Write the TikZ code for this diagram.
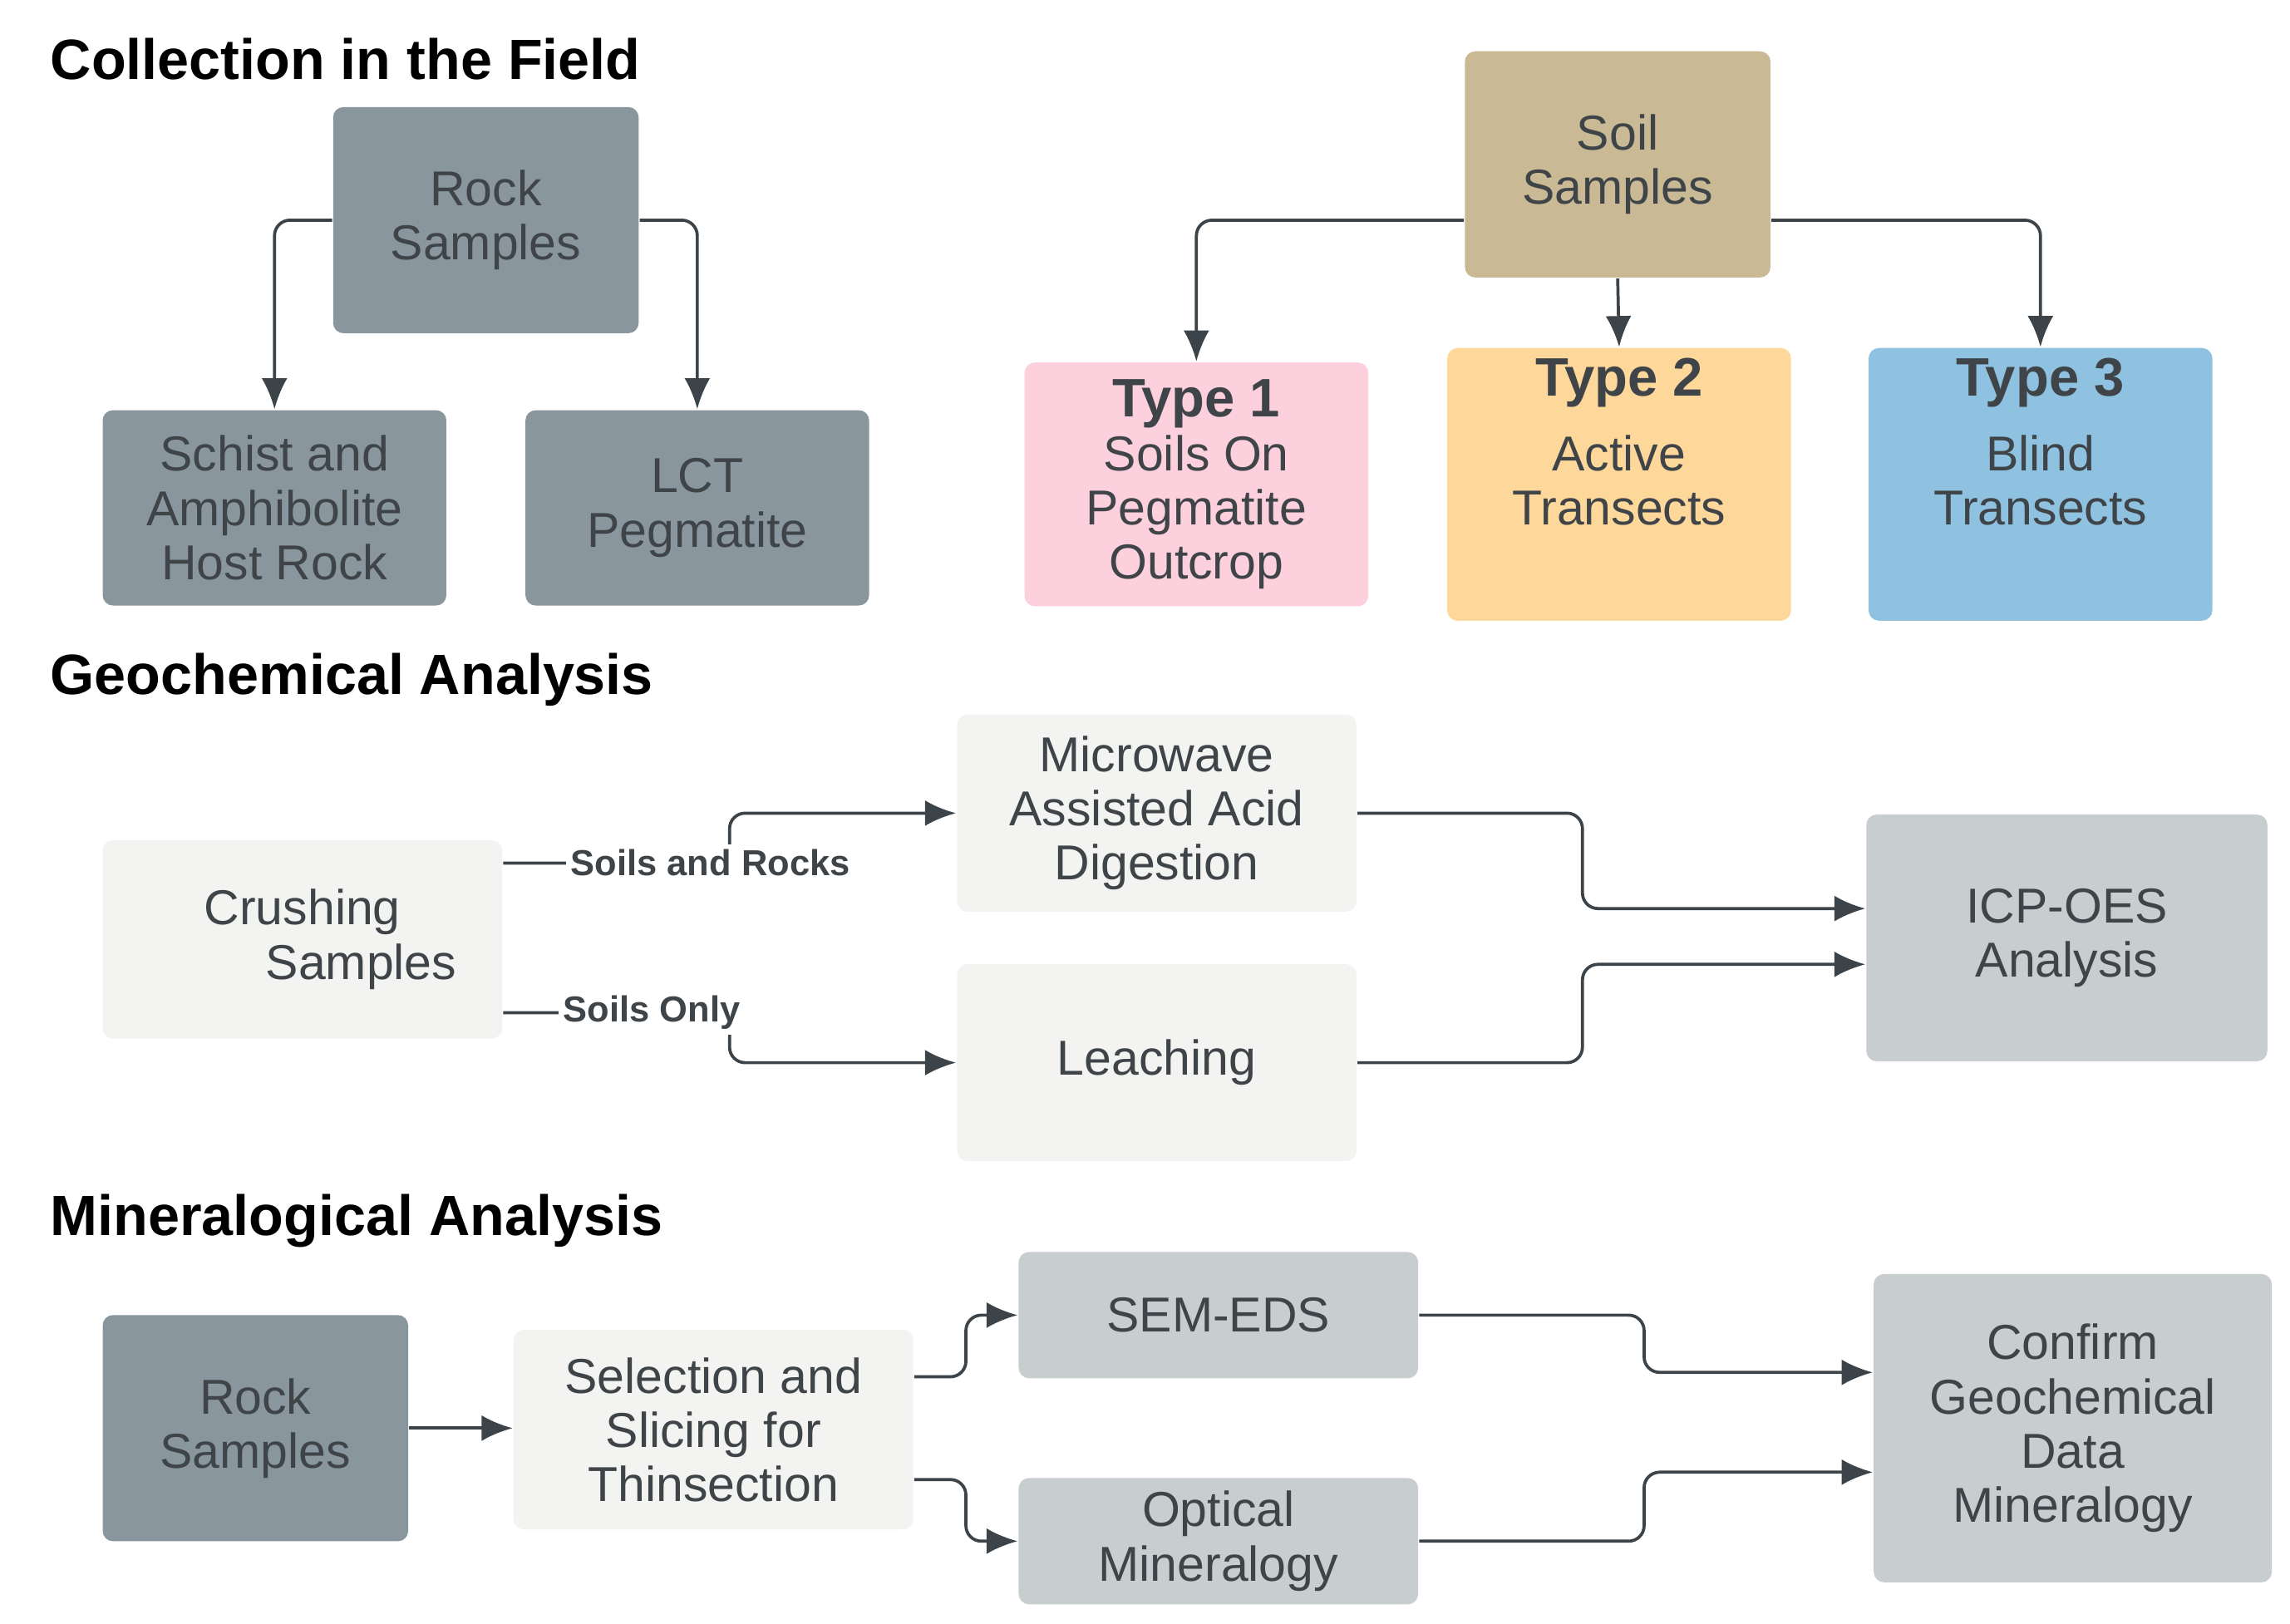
\documentclass[tikz,border=0pt]{standalone}
\usepackage{fontspec}
\setmainfont{Liberation Sans}
\usetikzlibrary{arrows.meta,positioning}
\definecolor{rockgray}{HTML}{8A969D}
\definecolor{soiltan}{HTML}{C9B994}
\definecolor{pinkbox}{HTML}{FCD0DC}
\definecolor{orangebox}{HTML}{FED79A}
\definecolor{bluebox}{HTML}{8FC2E0}
\definecolor{lightbox}{HTML}{F3F3F1}
\definecolor{midbox}{HTML}{C8CDD0}
\definecolor{txtgray}{HTML}{3F4448}
\definecolor{arrowgray}{HTML}{3C4449}
\begin{document}
\begin{tikzpicture}[
  x=0.01cm, y=-0.01cm,
  >=Latex,
  block/.style={rectangle, rounded corners=2pt, align=center, text=txtgray,
    font=\fontsize{9.5}{10.5}\selectfont, inner sep=2pt},
  title/.style={anchor=west, font=\fontsize{11}{13}\selectfont\bfseries},
  elabel/.style={fill=white, inner sep=1pt, text=txtgray, font=\fontsize{7}{8}\selectfont\bfseries},
  line/.style={draw=arrowgray, line width=0.6pt, rounded corners=3pt, -{Latex[length=6pt,width=5pt]}}
]
\useasboundingbox (0,0) rectangle (1560,1106);

% Collection in the Field
\node[title] (tfield) at (22,40) {Collection in the Field};
\node[block, fill=rockgray, minimum width=2.08cm, minimum height=1.54cm] (rock) at (331,150) {Rock\\Samples};
\node[block, fill=rockgray, minimum width=2.34cm, minimum height=1.33cm] (schist) at (187,346) {Schist and\\Amphibolite\\Host Rock};
\node[block, fill=rockgray, minimum width=2.34cm, minimum height=1.33cm] (lct) at (475,346) {LCT\\Pegmatite};
\node[block, fill=soiltan, minimum width=2.08cm, minimum height=1.54cm] (soil) at (1102,112) {Soil\\Samples};
\node[block, fill=pinkbox, minimum width=2.34cm, minimum height=1.66cm] (type1) at (815,330) {{\bfseries\fontsize{10.5}{12}\selectfont Type 1}\\Soils On\\Pegmatite\\Outcrop};
\node[block, fill=orangebox, minimum width=2.34cm, minimum height=1.66cm] (type2) at (1103,330) {{\bfseries\fontsize{10.5}{12}\selectfont Type 2}\\[4pt]Active\\Transects\\[6pt]};
\node[block, fill=bluebox, minimum width=2.34cm, minimum height=1.66cm] (type3) at (1390,330) {{\bfseries\fontsize{10.5}{12}\selectfont Type 3}\\[4pt]Blind\\Transects\\[6pt]};

\path[line] (rock.west) -| (schist.north);
\path[line] (rock.east) -| (lct.north);
\path[line] ([yshift=-0.38cm]soil.west) -| (type1.north);
\path[line] (soil.south) -- (type2.north);
\path[line] ([yshift=-0.38cm]soil.east) -| (type3.north);

% Geochemical Analysis
\node[title] (tgeo) at (22,463) {Geochemical Analysis};
\node[block, fill=lightbox, minimum width=2.72cm, minimum height=1.35cm] (crush) at (206,640) {Crushing\\\hspace*{0.8cm}Samples};
\node[block, fill=lightbox, minimum width=2.72cm, minimum height=1.34cm] (micro) at (788,554) {Microwave\\Assisted Acid\\Digestion};
\node[block, fill=lightbox, minimum width=2.72cm, minimum height=1.34cm] (leach) at (788,724) {Leaching};
\node[block, fill=midbox, minimum width=2.73cm, minimum height=1.68cm] (icp) at (1408,639) {ICP-OES\\Analysis};
\coordinate (splitA) at (497,588);
\coordinate (splitB) at (497,690);
\coordinate (joinA) at (1078,619);
\coordinate (joinB) at (1078,657);

\path[line] (crush.east |- splitA) -- (splitA) |- (micro.west);
\path[line] (crush.east |- splitB) -- (splitB) |- (leach.west);
\node[elabel] (lblA) at (484,588) {Soils and Rocks};
\node[elabel] (lblB) at (444,690) {Soils Only};
\path[line] (micro.east) -| (joinA) -- (icp.west |- joinA);
\path[line] (leach.east) -| (joinB) -- (icp.west |- joinB);

% Mineralogical Analysis
\node[title] (tmin) at (22,832) {Mineralogical Analysis};
\node[block, fill=rockgray, minimum width=2.08cm, minimum height=1.54cm] (rock2) at (174,973) {Rock\\Samples};
\node[block, fill=lightbox, minimum width=2.72cm, minimum height=1.36cm] (slice) at (486,974) {Selection and\\Slicing for\\Thinsection};
\node[block, fill=midbox, minimum width=2.72cm, minimum height=0.86cm] (sem) at (830,896) {SEM-EDS};
\node[block, fill=midbox, minimum width=2.72cm, minimum height=0.86cm] (optic) at (830,1050) {Optical\\Mineralogy};
\node[block, fill=midbox, minimum width=2.71cm, minimum height=2.10cm] (confirm) at (1412,973) {Confirm\\Geochemical\\Data\\Mineralogy};
\coordinate (forkA) at (658,938);
\coordinate (forkB) at (658,1008);
\coordinate (mergeA) at (1120,935);
\coordinate (mergeB) at (1120,1003);

\path[line] (rock2.east) -- (slice.west |- rock2.east);
\path[line] (slice.east |- forkA) -- (forkA) |- (sem.west);
\path[line] (slice.east |- forkB) -- (forkB) |- (optic.west);
\path[line] (sem.east) -| (mergeA) -- (confirm.west |- mergeA);
\path[line] (optic.east) -| (mergeB) -- (confirm.west |- mergeB);
\end{tikzpicture}
\end{document}
